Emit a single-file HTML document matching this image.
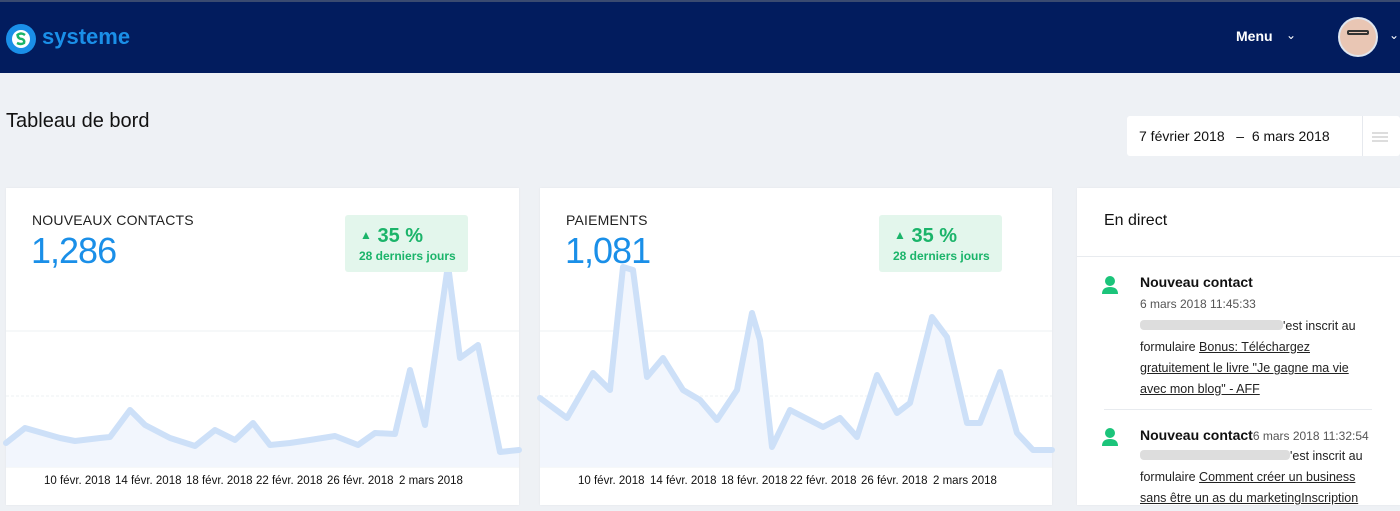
<!DOCTYPE html>
<html><head><meta charset="utf-8"><style>
*{margin:0;padding:0;box-sizing:border-box}
body{width:1400px;height:511px;overflow:hidden;background:#eef1f5;font-family:"Liberation Sans",sans-serif;position:relative;color:#111}
.hdr{position:absolute;left:0;top:0;width:1400px;height:73px;background:#021c5e;border-top:2px solid #3a4a70}
.abs{position:absolute}
.card{position:absolute;background:#fff;top:188px;height:317px;box-shadow:0 0 2px rgba(0,0,0,.05)}
.lbl{font-size:14px;color:#222;letter-spacing:.2px}
.big{font-size:36px;color:#1a8fe8;letter-spacing:-1px}
.badge{position:absolute;background:#e3f6ec;border-radius:3px;width:123px;height:57px;color:#1bb46a;font-weight:bold}
.ax{position:absolute;font-size:11.5px;color:#111;top:475px}
u{text-decoration:underline}
.feed{font-size:12.5px;color:#222;line-height:21px}
</style></head><body>
<div class="hdr"></div>
<svg class="abs" style="left:4px;top:22px" width="34" height="34" viewBox="0 0 34 34">
<circle cx="17" cy="17" r="15" fill="#1a8fe8"/><circle cx="17" cy="17" r="9" fill="#fff"/>
<path d="M21 13 Q17 10 13.5 13 Q14 17 18 17 Q21 18 20 21 Q17 23 13 21" stroke="#1bb46a" stroke-width="2.5" fill="none"/></svg>
<div class="abs" style="left:42px;top:24px;font-size:22px;font-weight:bold;color:#1a8fe8">systeme</div>
<div class="abs" style="left:1236px;top:28px;font-size:14px;font-weight:bold;color:#fff">Menu</div>
<div class="abs" style="left:1286px;top:28px;font-size:12px;color:#fff">&#x2304;</div>
<div class="abs" style="left:1338px;top:17px;width:40px;height:40px;border-radius:50%;background:#e9c6b4;border:2px solid #dfe6f0"></div>
<div class="abs" style="left:1347px;top:30px;width:22px;height:5px;border:2px solid #333;border-radius:2px"></div>
<div class="abs" style="left:1389px;top:28px;font-size:12px;color:#fff">&#x2304;</div>

<div class="abs" style="left:6px;top:110px;font-size:20px;color:#111">Tableau de bord</div>
<div class="abs" style="left:1127px;top:116px;width:273px;height:40px;background:#fff;border-radius:3px"></div>
<div class="abs" style="left:1362px;top:116px;width:1px;height:40px;background:#e6e9ee"></div>
<div class="abs" style="left:1139px;top:128px;font-size:14px;color:#111">7 février 2018 &nbsp; – &nbsp;6 mars 2018</div>
<div class="abs" style="left:1372px;top:132px;width:16px;height:2px;background:#ddd;box-shadow:0 4px 0 #ddd,0 8px 0 #ddd"></div>

<div class="card" style="left:6px;width:513px"></div>
<div class="card" style="left:540px;width:512px"></div>
<div class="card" style="left:1077px;width:323px"></div>

<svg class="abs" style="left:0;top:0" width="1400" height="511">
<line x1="6" y1="331" x2="519" y2="331" stroke="#eef0f3"/>
<line x1="6" y1="396" x2="519" y2="396" stroke="#eef0f3" stroke-dasharray="3 2"/>
<line x1="6" y1="467" x2="519" y2="467" stroke="#eef0f3"/>
<line x1="540" y1="331" x2="1052" y2="331" stroke="#eef0f3"/>
<line x1="540" y1="396" x2="1052" y2="396" stroke="#eef0f3" stroke-dasharray="3 2"/>
<line x1="540" y1="467" x2="1052" y2="467" stroke="#eef0f3"/>
<polygon fill="#f2f6fd" points="6,467 6,443 25,428 60,438 75,441 100,438 110,437 130,410 145,425 170,438 195,446 215,430 235,440 253,423 270,445 290,443 310,440 335,436 358,445 375,433 395,434 410,370 425,425 448,265 460,358 478,345 500,452 519,450 519,467"/>
<polyline fill="none" stroke="#cde0f8" stroke-width="6" stroke-linejoin="round" stroke-linecap="round" points="6,443 25,428 60,438 75,441 100,438 110,437 130,410 145,425 170,438 195,446 215,430 235,440 253,423 270,445 290,443 310,440 335,436 358,445 375,433 395,434 410,370 425,425 448,265 460,358 478,345 500,452 519,450"/>
<polygon fill="#f2f6fd" points="540,467 540,398 567,418 593,373 610,390 623,267 633,270 647,377 663,358 683,390 700,400 717,420 737,390 752,313 760,340 772,447 790,410 823,427 840,418 857,437 877,375 897,413 910,403 932,317 947,337 967,423 980,423 1000,372 1017,433 1033,450 1052,450 1052,467"/>
<polyline fill="none" stroke="#cde0f8" stroke-width="6" stroke-linejoin="round" stroke-linecap="round" points="540,398 567,418 593,373 610,390 623,267 633,270 647,377 663,358 683,390 700,400 717,420 737,390 752,313 760,340 772,447 790,410 823,427 840,418 857,437 877,375 897,413 910,403 932,317 947,337 967,423 980,423 1000,372 1017,433 1033,450 1052,450"/>
</svg>

<div class="abs lbl" style="left:32px;top:212px">NOUVEAUX CONTACTS</div>
<div class="abs big" style="left:31px;top:230px">1,286</div>
<div class="badge" style="left:345px;top:215px"><div style="position:absolute;left:15px;top:10px;font-size:20px"><span style="font-size:12px;vertical-align:3px">▲</span> 35 %</div><div style="position:absolute;left:14px;top:34px;font-size:12px">28 derniers jours</div></div>
<div class="abs lbl" style="left:566px;top:212px">PAIEMENTS</div>
<div class="abs big" style="left:565px;top:230px">1,081</div>
<div class="badge" style="left:879px;top:215px"><div style="position:absolute;left:15px;top:10px;font-size:20px"><span style="font-size:12px;vertical-align:3px">▲</span> 35 %</div><div style="position:absolute;left:14px;top:34px;font-size:12px">28 derniers jours</div></div>

<div class="ax" style="left:44px">10 févr. 2018</div><div class="ax" style="left:115px">14 févr. 2018</div><div class="ax" style="left:186px">18 févr. 2018</div><div class="ax" style="left:256px">22 févr. 2018</div><div class="ax" style="left:327px">26 févr. 2018</div><div class="ax" style="left:399px">2 mars 2018</div>
<div class="ax" style="left:578px">10 févr. 2018</div><div class="ax" style="left:650px">14 févr. 2018</div><div class="ax" style="left:721px">18 févr. 2018</div><div class="ax" style="left:790px">22 févr. 2018</div><div class="ax" style="left:861px">26 févr. 2018</div><div class="ax" style="left:933px">2 mars 2018</div>

<div class="abs" style="left:1104px;top:212px;font-size:16px;color:#111">En direct</div>
<div class="abs" style="left:1077px;top:256px;width:323px;height:1px;background:#e8ebef"></div>
<svg class="abs" style="left:1101px;top:276px" width="18" height="20"><circle cx="9" cy="5" r="5" fill="#1bc47a"/><path d="M1 18 Q1 11 9 11 Q17 11 17 18Z" fill="#1bc47a"/></svg>
<div class="abs" style="left:1140px;top:274px;font-size:14px;font-weight:bold">Nouveau contact</div>
<div class="abs" style="left:1140px;top:297px;font-size:12px;color:#555">6 mars 2018 11:45:33</div>
<div class="abs feed" style="left:1140px;top:316px;width:240px"><span style="display:inline-block;width:143px;height:10px;background:#ddd;border-radius:4px"></span>'est inscrit au<br>formulaire <u>Bonus: Téléchargez</u><br><u>gratuitement le livre "Je gagne ma vie</u><br><u>avec mon blog" - AFF</u></div>
<div class="abs" style="left:1104px;top:409px;width:268px;height:1px;background:#e8ebef"></div>
<svg class="abs" style="left:1101px;top:428px" width="18" height="20"><circle cx="9" cy="5" r="5" fill="#1bc47a"/><path d="M1 18 Q1 11 9 11 Q17 11 17 18Z" fill="#1bc47a"/></svg>
<div class="abs" style="left:1140px;top:427px;font-size:14px;font-weight:bold">Nouveau contact<span style="font-size:12px;font-weight:normal;color:#555">6 mars 2018 11:32:54</span></div>
<div class="abs feed" style="left:1140px;top:446px;width:250px"><span style="display:inline-block;width:150px;height:10px;background:#ddd;border-radius:4px"></span>'est inscrit au<br>formulaire <u>Comment créer un business</u><br><u>sans être un as du marketingInscription</u></div>
</body></html>
